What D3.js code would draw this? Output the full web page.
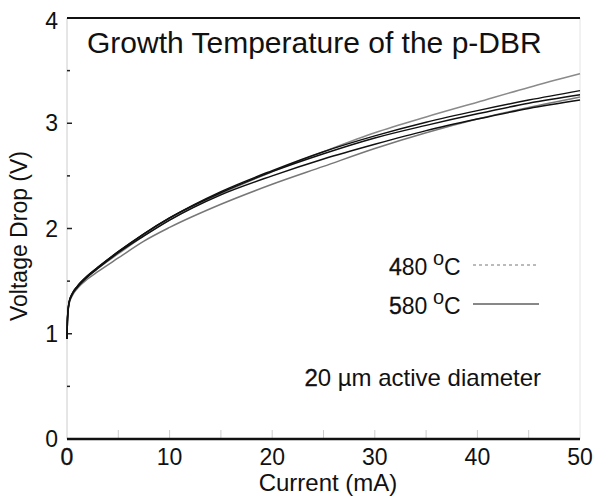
<!DOCTYPE html>
<html>
<head>
<meta charset="utf-8">
<script src="https://cdn.jsdelivr.net/npm/d3@7"></script>
<style>
  body { margin: 0; background: #fff; }
  text { font-family: "Liberation Sans", Arial, sans-serif; fill: #111; }
  .heavy { stroke: #111; stroke-width: 0.35; }
</style>
</head>
<body>
<script>
// current (mA) sample points shared by all traces
var current = [0, 0.05, 0.2, 0.5, 1, 2, 3, 5, 7.5, 10, 15, 20, 25, 30, 35, 40, 45, 50];

// 480 C traces (grey)
var v480a = [0.95, 1.15, 1.29, 1.37, 1.44, 1.54, 1.62, 1.76, 1.93, 2.08, 2.33, 2.54, 2.73, 2.91, 3.06, 3.20, 3.34, 3.47];
var v480b = [0.95, 1.14, 1.28, 1.36, 1.43, 1.52, 1.59, 1.72, 1.88, 2.01, 2.23, 2.42, 2.59, 2.76, 2.91, 3.04, 3.15, 3.25];
// 580 C traces (black)
var v580a = [0.95, 1.15, 1.30, 1.38, 1.45, 1.55, 1.63, 1.78, 1.95, 2.10, 2.35, 2.55, 2.73, 2.88, 3.01, 3.12, 3.22, 3.31];
var v580b = [0.95, 1.15, 1.30, 1.38, 1.45, 1.55, 1.63, 1.78, 1.95, 2.10, 2.34, 2.54, 2.71, 2.86, 2.98, 3.09, 3.19, 3.27];
var v580c = [0.95, 1.14, 1.29, 1.37, 1.44, 1.54, 1.62, 1.77, 1.93, 2.08, 2.32, 2.50, 2.66, 2.80, 2.93, 3.04, 3.14, 3.22];

var xTicks = [0, 10, 20, 30, 40, 50];
var yTicks = [0, 1, 2, 3, 4];

var width = 602, height = 498;
// plot box (named so they don't clash with window.top)
var pL = 67, pR = 580, pT = 18, pB = 439;

var svg = d3.select("body").append("svg")
    .attr("width", width)
    .attr("height", height);

var x = d3.scaleLinear().domain([0, 50]).range([pL, pR]);
var y = d3.scaleLinear().domain([0, 4]).range([pB, pT]);

// frame: light sides, heavy top/bottom
svg.append("line").attr("x1", pL).attr("x2", pL).attr("y1", pT).attr("y2", pB)
    .attr("stroke", "#ccc").attr("stroke-width", 1);
svg.append("line").attr("x1", pR).attr("x2", pR).attr("y1", pT).attr("y2", pB)
    .attr("stroke", "#e4e4e4").attr("stroke-width", 1);

// x minor ticks (light, pointing up)
svg.selectAll(".xt")
    .data(d3.range(5, 50, 5))
  .enter().append("line")
    .attr("x1", function(d){ return x(d); })
    .attr("x2", function(d){ return x(d); })
    .attr("y1", pB).attr("y2", pB - 9)
    .attr("stroke", "#ccc");

// y ticks
svg.selectAll(".ytM")
    .data([1, 2, 3])
  .enter().append("line")
    .attr("x1", pL).attr("x2", pL + 5)
    .attr("y1", function(d){ return y(d); })
    .attr("y2", function(d){ return y(d); })
    .attr("stroke", "#222").attr("stroke-width", 1.5);
svg.selectAll(".ytm")
    .data([0.5, 1.5, 2.5, 3.5])
  .enter().append("line")
    .attr("x1", pL).attr("x2", pL + 3)
    .attr("y1", function(d){ return y(d); })
    .attr("y2", function(d){ return y(d); })
    .attr("stroke", "#222").attr("stroke-width", 1.5);

svg.append("line").attr("x1", pL).attr("x2", pR).attr("y1", pT).attr("y2", pT)
    .attr("stroke", "#111").attr("stroke-width", 2);
svg.append("line").attr("x1", pL).attr("x2", pR).attr("y1", pB).attr("y2", pB)
    .attr("stroke", "#111").attr("stroke-width", 2.5);

// tick labels
svg.selectAll(".xl")
    .data(xTicks)
  .enter().append("text")
    .attr("class", function(d){ return d === 0 ? "heavy" : null; })
    .attr("x", function(d){ return x(d); })
    .attr("y", pB + 26)
    .attr("text-anchor", "middle")
    .attr("font-size", 23)
    .text(function(d){ return d; });

svg.selectAll(".yl")
    .data(yTicks)
  .enter().append("text")
    .attr("x", pL - 9)
    .attr("y", function(d){ return y(d) + (d === 4 ? 11 : 8); })
    .attr("text-anchor", "end")
    .attr("font-size", 23)
    .text(function(d){ return d; });

// axis titles
svg.append("text")
    .attr("x", 328).attr("y", 491)
    .attr("text-anchor", "middle")
    .attr("font-size", 24)
    .text("Current (mA)");
svg.append("text")
    .attr("transform", "translate(27,236) rotate(-90)")
    .attr("text-anchor", "middle")
    .attr("font-size", 23)
    .text("Voltage Drop (V)");

// title inside plot
svg.append("text")
    .attr("x", 87).attr("y", 53)
    .attr("font-size", 30)
    .text("Growth Temperature of the p-DBR");

// curves
var line = d3.line()
    .x(function(d){ return x(d[0]); })
    .y(function(d){ return y(d[1]); })
    .curve(d3.curveMonotoneX);

var traces = [
  {v: v480a, color: "#8a8a8a"},
  {v: v480b, color: "#777"},
  {v: v580c, color: "#111"},
  {v: v580b, color: "#111"},
  {v: v580a, color: "#111"}
];

svg.selectAll(".trace")
    .data(traces)
  .enter().append("path")
    .attr("class", "trace")
    .attr("fill", "none")
    .attr("stroke", function(d){ return d.color; })
    .attr("stroke-width", 1.5)
    .attr("d", function(d){ return line(d3.zip(current, d.v)); });

// legend
var legend = [
  {label: "480", y: 275, dash: "3,3", color: "#777"},
  {label: "580", y: 314, dash: null, color: "#111"}
];
var lg = svg.selectAll(".lg")
    .data(legend)
  .enter().append("g");
var lt = lg.append("text")
    .attr("x", 389).attr("y", function(d){ return d.y; })
    .attr("font-size", 23);
lt.append("tspan").attr("class", "heavy").text(function(d){ return d.label.charAt(0); });
lt.append("tspan").text(function(d){ return d.label.slice(1); });
lg.append("text")
    .attr("x", 433).attr("y", function(d){ return d.y - 10; })
    .attr("font-size", 20)
    .text("o");
lg.append("text")
    .attr("x", 444).attr("y", function(d){ return d.y; })
    .attr("font-size", 23)
    .text("C");
lg.append("line")
    .attr("x1", 473).attr("x2", 539)
    .attr("y1", function(d){ return d.y - 10; })
    .attr("y2", function(d){ return d.y - 10; })
    .attr("stroke", function(d){ return d.color; })
    .attr("stroke-width", 1)
    .attr("stroke-dasharray", function(d){ return d.dash; });

var note = svg.append("text")
    .attr("x", 541).attr("y", 386)
    .attr("text-anchor", "end")
    .attr("font-size", 24);
note.append("tspan").attr("class", "heavy").text("2");
note.append("tspan").text("0 µm active diameter");
</script>
</body>
</html>
